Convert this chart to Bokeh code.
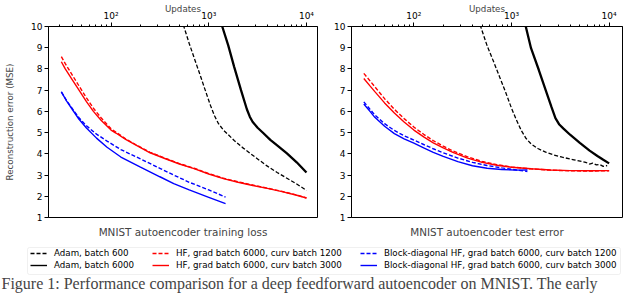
import math
from bokeh.plotting import figure
from bokeh.layouts import column, row
from bokeh.models import (FixedTicker, Range1d, Label, Legend, LegendItem, BoxAnnotation, LogAxis)
from bokeh.embed import file_html
from bokeh.resources import INLINE

# ---------------- data ----------------
update_ticks = [100, 1000, 10000]
update_tick_labels = ["10\u00b2", "10\u00b3", "10\u2074"]
mse_ticks = [1, 2, 3, 4, 5, 6, 7, 8, 9, 10]

panel_titles = ["MNIST autoencoder training loss", "MNIST autoencoder test error"]
x_label = "Updates"
y_label = "Reconstruction error (MSE)"
caption = "Figure 1: Performance comparison for a deep feedforward autoencoder on MNIST. The early"

series_labels = [
    "Adam, batch 600",
    "Adam, batch 6000",
    "HF, grad batch 6000, curv batch 1200",
    "HF, grad batch 6000, curv batch 3000",
    "Block-diagonal HF, grad batch 6000, curv batch 1200",
    "Block-diagonal HF, grad batch 6000, curv batch 3000",
]

# --- training loss panel ---
train_adam600_x = [525, 556, 631, 724, 832, 944, 1047, 1148, 1259, 1413, 1585, 1820, 2239, 2692, 3162, 3981, 5012, 6310, 7943, 10000]
train_adam600_y = [10.35, 10.0, 9.2, 8.4, 7.6, 6.85, 6.25, 5.78, 5.42, 5.12, 4.9, 4.63, 4.28, 4.0, 3.76, 3.42, 3.12, 2.85, 2.58, 2.28]

train_adam6000_x = [1318, 1374, 1585, 1820, 2138, 2455, 2630, 2818, 3162, 3631, 4266, 5012, 6310, 7943, 10000]
train_adam6000_y = [10.3, 10.0, 9.1, 8.1, 7.0, 6.1, 5.75, 5.5, 5.23, 4.97, 4.66, 4.4, 4.02, 3.6, 3.12]

train_hf_x = [31, 34, 40, 47, 56, 66, 79, 100, 112, 141, 178, 251, 355, 501, 708, 1000, 1413, 1995, 2818, 3981, 5623, 7943, 10000]
train_hf1200_y = [8.58, 8.25, 7.72, 7.2, 6.64, 6.15, 5.7, 5.18, 5.02, 4.71, 4.44, 4.07, 3.8, 3.54, 3.32, 3.07, 2.85, 2.68, 2.53, 2.38, 2.23, 2.06, 1.92]
train_hf3000_y = [8.34, 8.0, 7.5, 7.0, 6.46, 6.0, 5.58, 5.12, 4.98, 4.68, 4.42, 4.05, 3.78, 3.52, 3.3, 3.05, 2.83, 2.66, 2.51, 2.37, 2.22, 2.05, 1.92]

train_bd_x = [31, 35, 41, 47, 56, 71, 91, 126, 200, 316, 438, 631, 1000, 1486]
train_bd1200_y = [6.92, 6.52, 6.07, 5.7, 5.32, 4.93, 4.6, 4.2, 3.76, 3.32, 3.0, 2.66, 2.3, 1.96]
train_bd3000_y = [6.92, 6.5, 6.03, 5.63, 5.22, 4.74, 4.31, 3.85, 3.37, 2.92, 2.6, 2.3, 1.95, 1.65]

# --- test error panel ---
test_adam600_x = [457, 483, 562, 661, 759, 871, 1000, 1122, 1259, 1413, 1585, 1862, 2239, 2692, 3311, 4365, 5754, 6300, 6800, 7413, 8000, 8700, 9550]
test_adam600_y = [10.35, 10.0, 9.1, 8.3, 7.6, 6.9, 6.15, 5.6, 5.1, 4.72, 4.47, 4.25, 4.08, 3.95, 3.84, 3.72, 3.6, 3.52, 3.56, 3.48, 3.5, 3.41, 3.45]

test_adam6000_x = [1349, 1400, 1585, 1905, 2239, 2570, 2818, 3090, 3388, 3981, 5012, 6310, 7586, 8710, 10000]
test_adam6000_y = [10.3, 10.0, 8.98, 7.95, 7.0, 6.2, 5.68, 5.38, 5.2, 4.9, 4.52, 4.15, 3.9, 3.72, 3.55]

test_hf_x = [30.7, 35.5, 39.8, 50.1, 63.1, 79.4, 100, 126, 158, 200, 251, 355, 501, 708, 1000, 1585, 2512, 3981, 6310, 10000]
test_hf1200_y = [7.79, 7.44, 7.16, 6.6, 6.1, 5.66, 5.26, 4.92, 4.62, 4.36, 4.14, 3.86, 3.64, 3.49, 3.38, 3.29, 3.23, 3.2, 3.19, 3.2]
test_hf3000_y = [7.55, 7.2, 6.93, 6.4, 5.92, 5.5, 5.12, 4.8, 4.52, 4.28, 4.07, 3.8, 3.6, 3.46, 3.37, 3.3, 3.24, 3.21, 3.2, 3.21]

test_bd_x = [30.7, 35.5, 39.8, 50.1, 63.1, 79.4, 100, 126, 158, 200, 282, 398, 562, 794, 1122, 1455]
test_bd1200_y = [6.45, 6.1, 5.83, 5.42, 5.1, 4.85, 4.65, 4.44, 4.24, 4.05, 3.8, 3.6, 3.45, 3.34, 3.24, 3.17]
test_bd3000_y = [6.35, 6.0, 5.72, 5.3, 4.95, 4.7, 4.5, 4.28, 4.07, 3.88, 3.63, 3.44, 3.32, 3.26, 3.23, 3.24]

train_series = [
    (train_adam600_x, train_adam600_y),
    (train_adam6000_x, train_adam6000_y),
    (train_hf_x, train_hf1200_y),
    (train_hf_x, train_hf3000_y),
    (train_bd_x, train_bd1200_y),
    (train_bd_x, train_bd3000_y),
]
test_series = [
    (test_adam600_x, test_adam600_y),
    (test_adam6000_x, test_adam6000_y),
    (test_hf_x, test_hf1200_y),
    (test_hf_x, test_hf3000_y),
    (test_bd_x, test_bd1200_y),
    (test_bd_x, test_bd3000_y),
]

# ---------------- styles ----------------
colors = ["black", "black", "red", "red", "blue", "blue"]
dashes = ["4 2", "solid", "4 2", "solid", "4 2", "solid"]
widths = [1.3, 2.3, 1.4, 1.4, 1.4, 1.4]
FONT = "DejaVu Sans"
minor = [k * 10 ** e for e in (1, 2, 3, 4) for k in range(2, 10)]


def panel(width, b_left, b_right, x_lo, x_hi, data, title, with_ylabel):
    p = figure(width=width, height=241, x_axis_type="log", x_axis_location="above",
               x_range=Range1d(x_lo, x_hi), y_range=Range1d(1, 10),
               toolbar_location=None, output_backend="svg",
               min_border_left=b_left, min_border_right=b_right,
               min_border_top=26, min_border_bottom=24)
    p.grid.visible = False
    p.outline_line_color = "black"
    p.outline_line_width = 1
    p.background_fill_color = "white"
    p.border_fill_color = "white"

    xa = p.xaxis[0]
    xa.ticker = FixedTicker(ticks=update_ticks, minor_ticks=minor)
    xa.major_label_overrides = dict(zip(update_ticks, update_tick_labels))
    xa.major_tick_out = 4
    xa.major_tick_in = 0
    xa.minor_tick_out = 2
    xa.minor_tick_in = 0
    xa.major_label_standoff = 2
    xa.major_label_text_font = FONT
    xa.major_label_text_font_size = "9px"
    xa.major_label_text_color = "black"
    xa.axis_line_color = "black"
    xa.axis_label = x_label
    xa.axis_label_text_font = FONT
    xa.axis_label_text_font_size = "8.7px"
    xa.axis_label_text_font_style = "normal"
    xa.axis_label_standoff = -6

    ya = p.yaxis[0]
    ya.ticker = FixedTicker(ticks=mse_ticks)
    ya.major_tick_out = 4
    ya.major_tick_in = 0
    ya.minor_tick_out = 0
    ya.minor_tick_in = 0
    ya.major_label_standoff = 2
    ya.major_label_text_font = FONT
    ya.major_label_text_font_size = "9px"
    ya.major_label_text_color = "black"
    ya.axis_line_color = "black"
    if with_ylabel:
        ya.axis_label = y_label
        ya.axis_label_text_font = FONT
        ya.axis_label_text_font_size = "8.7px"
        ya.axis_label_text_font_style = "normal"
        ya.axis_label_standoff = 13

    # panel title below the frame, carried by a tick-less axis
    ta = LogAxis(ticker=FixedTicker(ticks=[]), axis_label=title,
                 axis_label_text_font=FONT, axis_label_text_font_size="10.4px",
                 axis_label_text_font_style="normal", axis_label_standoff=8,
                 axis_line_color=None, major_tick_out=0, minor_tick_out=0,
                 major_tick_in=0, minor_tick_in=0)
    p.add_layout(ta, "below")

    for (xs, ys), c, d, w in zip(data, colors, dashes, widths):
        p.line(xs, ys, line_color=c, line_dash=d, line_width=w)
    return p


p1 = panel(330, 48, 13, 22.9, 12970, train_series, panel_titles[0], True)
p2 = panel(310, 21, 18, 22.96, 13710, test_series, panel_titles[1], False)

# ---------------- legend strip (data coords == page coords) ----------------
pl = figure(width=640, height=54, x_range=Range1d(0, 640), y_range=Range1d(295, 241),
            toolbar_location=None, output_backend="svg",
            x_axis_location=None, y_axis_location=None,
            min_border_left=0, min_border_right=0, min_border_top=0, min_border_bottom=0)
pl.grid.visible = False
pl.outline_line_color = None
pl.background_fill_color = "white"
pl.border_fill_color = "white"

dummies = [pl.line(x=[float("nan")], y=[float("nan")], line_color=c, line_dash=d, line_width=1.4)
           for c, d in zip(colors, dashes)]
pl.add_layout(BoxAnnotation(left=27, right=620, top=247, bottom=274, fill_alpha=0,
                            line_color="#cccccc", line_width=1, border_radius=2))
for i, lx in enumerate([30, 152, 360]):
    items = [LegendItem(label=series_labels[j], renderers=[dummies[j]]) for j in (2 * i, 2 * i + 1)]
    leg = Legend(items=items, location=(lx, 25), orientation="vertical",
                 padding=0, margin=0, spacing=2, glyph_width=17, glyph_height=10,
                 label_height=10, label_standoff=7, label_text_font=FONT,
                 label_text_font_size="8.7px", label_text_color="black",
                 border_line_color=None, background_fill_alpha=0)
    pl.add_layout(leg)

pl.add_layout(Label(x=1, y=283, text=caption, text_align="left", text_baseline="alphabetic",
                    text_font="Liberation Serif", text_font_size="16px"))

layout = column(row(p1, p2), pl)
open("out.html", "w").write(file_html(layout, INLINE))
